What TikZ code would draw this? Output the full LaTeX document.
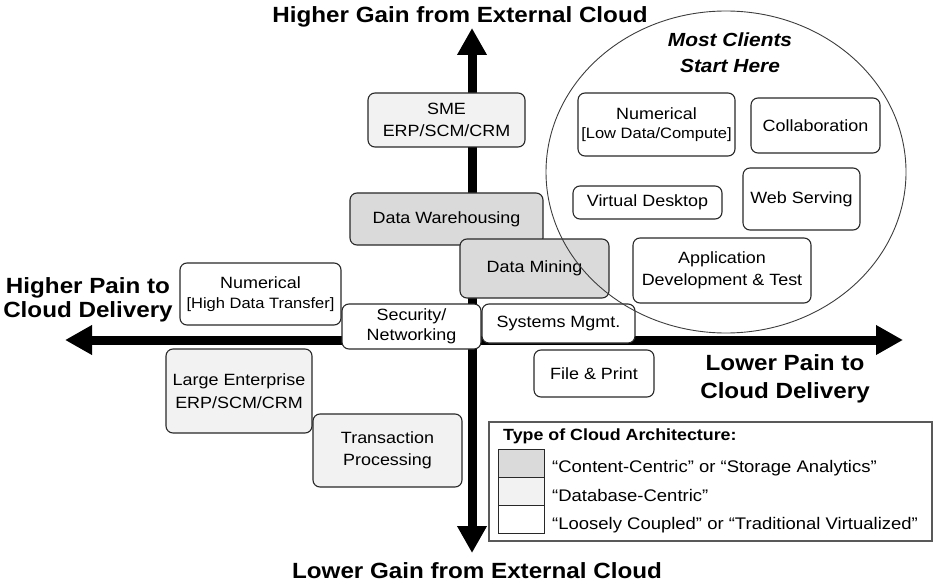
\documentclass[tikz,border=0pt]{standalone}
\usepackage{fontspec}
\setmainfont{Liberation Sans}[FakeStretch=1.1]
\usetikzlibrary{arrows.meta}
\definecolor{ccgray}{RGB}{218,218,218}
\definecolor{dbgray}{RGB}{242,242,242}
\definecolor{edgec}{RGB}{40,40,40}
\newcommand\myBoxFont{\fontsize{16.3}{22.5}\selectfont}
\newcommand\mySmallFont{\fontsize{15}{20}\selectfont}
\newcommand\myLabFont{\fontsize{22}{24}\selectfont\bfseries}
\newcommand\myLabFontB{\fontsize{22}{28}\selectfont\bfseries}
\newcommand\myMCFont{\fontsize{19}{26}\selectfont\bfseries\itshape}
\newcommand\myLegFont{\fontsize{16.8}{20}\selectfont}
\newcommand\myLegTitle{\fontsize{16.2}{20}\selectfont\bfseries}
\begin{document}
\begin{tikzpicture}[x=1pt,y=-1pt,
  box/.style={draw=edgec, line width=1.1pt, rounded corners=7pt, align=center,
    inner sep=0pt, font=\myBoxFont, text=black},
  ccbox/.style={box, fill=ccgray},
  dbbox/.style={box, fill=dbgray},
  wbox/.style={box, fill=white},
  axis/.style={line width=9pt, black,
    {Triangle[width=28pt,length=27pt]}-{Triangle[width=28pt,length=27pt]}},
  lab/.style={inner sep=0pt, font=\myLabFont, text=black},
  swatch/.style={draw=edgec, line width=1pt, inner sep=0pt, minimum width=46pt, minimum height=28pt},
  legtext/.style={inner sep=0pt, font=\myLegFont, anchor=base west}
]
\useasboundingbox (0,0) rectangle (933,585);

% axes
\coordinate (L) at (65,340);
\coordinate (R) at (903,340);
\coordinate (T) at (472,28);
\coordinate (B) at (472,553);
\draw[axis] (L) -- (R);
\draw[axis] (T) -- (B);

% axis labels
\node[lab, anchor=base] (tl) at (460,23) {Higher Gain from External Cloud};
\node[lab, anchor=base] (bl) at (477,578) {Lower Gain from External Cloud};
\node[lab, align=center] (ll) at (88,300) {Higher Pain to\\Cloud Delivery};
\node[lab, font=\myLabFontB, align=center] (rl) at (785,379) {Lower Pain to\\Cloud Delivery};

% boxes
\node[dbbox, minimum width=157pt, minimum height=54pt] (sme) at (446.5,120) {SME\\ERP/SCM/CRM};
\node[ccbox, minimum width=193pt, minimum height=52pt] (dw) at (446.5,219) {Data Warehousing};
\node[ccbox, minimum width=149pt, minimum height=59pt] (dm) at (534.5,268.5) {Data Mining};
\node[wbox, minimum width=161pt, minimum height=62pt] (numh) at (260.5,294) {Numerical\\[-2pt]{\mySmallFont [High Data Transfer]}};
\node[wbox, minimum width=139pt, minimum height=45pt] (sec) at (411.5,326.5) {Security/\\[-2pt]Networking};
\node[wbox, minimum width=153pt, minimum height=39pt] (sys) at (558.5,323.5) {Systems Mgmt.};
\node[wbox, minimum width=120pt, minimum height=47pt] (fp) at (594,373.5) {File \& Print};
\node[dbbox, minimum width=146pt, minimum height=84pt] (le) at (239,391) {Large Enterprise\\ERP/SCM/CRM};
\node[dbbox, minimum width=149pt, minimum height=73pt] (tp) at (387.5,450.5) {Transaction\\Processing};
\node[wbox, minimum width=157pt, minimum height=63pt] (numl) at (656.5,124.5) {Numerical\\[-3pt]{\mySmallFont [Low Data/Compute]}};
\node[wbox, minimum width=129pt, minimum height=55pt] (col) at (815.5,125.5) {Collaboration};
\node[wbox, minimum width=149pt, minimum height=33pt] (vd) at (647.5,202.5) {Virtual Desktop};
\node[wbox, minimum width=117pt, minimum height=62pt] (ws) at (801.5,199) {Web Serving};
\node[wbox, minimum width=178pt, minimum height=65pt] (app) at (722,270.5) {Application\\Development \& Test};

% circle
\draw[draw=edgec!90, line width=0.9pt] (726,172) ellipse [x radius=180, y radius=161];
\node[inner sep=0pt, font=\myMCFont, align=center] (mc) at (730,53) {Most Clients\\Start Here};

% legend
\draw[draw=black!65, line width=1.4pt, fill=white] (489,422) rectangle (932,541);
\node[inner sep=0pt, font=\myLegTitle, anchor=base west] (lt) at (503,440) {Type of Cloud Architecture:};
\node[swatch, fill=ccgray] (sw1) at (521,463) {};
\node[swatch, fill=dbgray] (sw2) at (521,491) {};
\node[swatch, fill=white] (sw3) at (521,519) {};
\node[legtext] (lg1) at (552,472) {“Content-Centric” or “Storage Analytics”};
\node[legtext] (lg2) at (552,501) {“Database-Centric”};
\node[legtext] (lg3) at (552,529) {“Loosely Coupled” or “Traditional Virtualized”};
\end{tikzpicture}
\end{document}
